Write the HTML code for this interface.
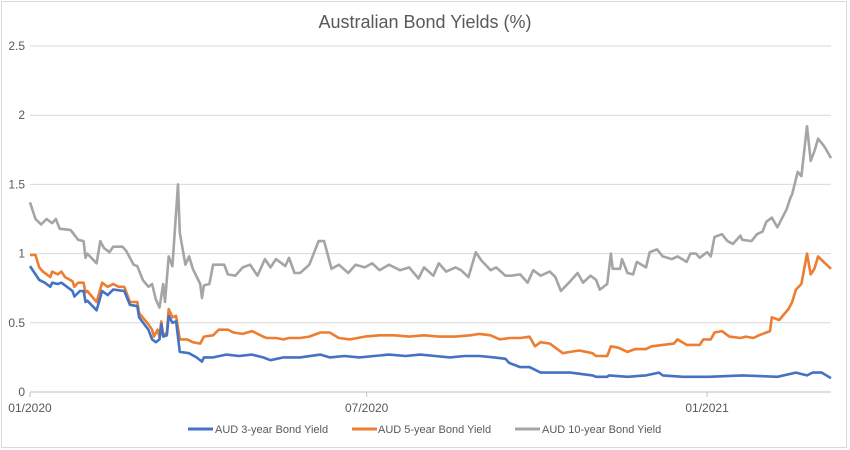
<!DOCTYPE html>
<html><head><meta charset="utf-8"><style>
body{margin:0;background:#fff;font-family:"Liberation Sans",Arial,sans-serif}
svg{display:block}
</style></head><body>
<svg id="chart" width="850" height="450" xmlns="http://www.w3.org/2000/svg">
<rect x="1.5" y="1.5" width="845" height="446" fill="#fff" stroke="#d9d9d9"/>
<text x="425" y="28" text-anchor="middle" font-size="18" fill="#595959">Australian Bond Yields (%)</text>
<g id="grid"></g><g id="series"></g>
<g font-size="11" fill="#595959">
<line x1="188" y1="429" x2="213" y2="429" stroke="#4472c4" stroke-width="3"/>
<text x="215" y="433">AUD 3-year Bond Yield</text>
<line x1="352" y1="429" x2="377" y2="429" stroke="#ed7d31" stroke-width="3"/>
<text x="378" y="433">AUD 5-year Bond Yield</text>
<line x1="515" y1="429" x2="540" y2="429" stroke="#a5a5a5" stroke-width="3"/>
<text x="542" y="433">AUD 10-year Bond Yield</text>
</g>
</svg>
<script>
const yTicks=[0,0.5,1,1.5,2,2.5];
const yTickLabels=["0","0.5","1","1.5","2","2.5"];
const xTickDays=[0,182,366];
const xTickLabels=["01/2020","07/2020","01/2021"];
const days3=[0,5,8,11,12,15,17,20,23,24,27,29,30,31,36,39,42,45,51,54,58,59,64,66,68,70,71,72,74,75,77,79,81,86,90,93,94,99,106,113,120,126,130,137,142,146,157,162,170,178,186,194,203,211,219,227,235,243,251,257,259,265,270,276,286,292,304,306,312,313,323,333,340,342,353,367,385,404,414,420,423,428,433];
const yield3=[0.91,0.81,0.79,0.76,0.79,0.78,0.79,0.76,0.73,0.69,0.73,0.73,0.65,0.66,0.59,0.73,0.70,0.74,0.73,0.63,0.62,0.54,0.45,0.38,0.36,0.38,0.49,0.40,0.41,0.55,0.50,0.51,0.29,0.28,0.25,0.22,0.25,0.25,0.27,0.26,0.27,0.25,0.23,0.25,0.25,0.25,0.27,0.25,0.26,0.25,0.26,0.27,0.26,0.27,0.26,0.25,0.26,0.26,0.25,0.24,0.21,0.18,0.18,0.14,0.14,0.14,0.12,0.11,0.11,0.12,0.11,0.12,0.14,0.12,0.11,0.11,0.12,0.11,0.14,0.12,0.14,0.14,0.10];
const days5=[0,3,5,7,11,12,15,17,19,23,24,26,29,30,31,36,39,42,45,48,51,54,58,59,64,66,67,69,70,71,72,74,75,77,79,81,85,88,92,94,99,102,107,110,115,120,126,128,133,137,140,146,151,157,162,167,173,181,189,197,205,213,221,230,238,243,249,254,259,265,270,273,276,281,288,292,297,304,306,312,314,318,323,327,333,336,342,348,350,355,362,364,368,370,374,378,384,387,391,394,400,401,405,410,412,414,417,420,422,424,426,429,433];
const yield5=[0.99,0.99,0.90,0.87,0.83,0.87,0.85,0.87,0.83,0.80,0.76,0.79,0.79,0.72,0.73,0.65,0.79,0.76,0.78,0.76,0.76,0.65,0.65,0.57,0.49,0.45,0.40,0.45,0.40,0.51,0.41,0.43,0.60,0.54,0.55,0.38,0.38,0.36,0.35,0.40,0.41,0.45,0.45,0.43,0.42,0.44,0.40,0.39,0.39,0.38,0.39,0.39,0.40,0.43,0.43,0.39,0.38,0.40,0.41,0.41,0.40,0.41,0.40,0.40,0.41,0.42,0.41,0.38,0.39,0.39,0.40,0.33,0.36,0.35,0.28,0.29,0.30,0.28,0.26,0.26,0.33,0.32,0.29,0.31,0.31,0.33,0.34,0.35,0.38,0.34,0.34,0.38,0.38,0.43,0.44,0.40,0.39,0.40,0.39,0.41,0.44,0.54,0.52,0.60,0.65,0.74,0.78,1.00,0.85,0.89,0.98,0.94,0.89];
const days10=[0,3,6,9,12,14,16,22,26,29,30,31,36,38,40,43,45,50,52,56,58,61,64,66,68,70,72,73,75,77,80,81,84,86,88,92,93,94,97,99,105,107,111,115,119,123,127,130,133,138,140,143,146,151,156,159,163,167,172,176,181,185,189,194,200,205,210,213,218,221,225,230,233,237,241,244,249,252,257,260,265,269,272,276,281,284,287,292,296,299,303,306,308,312,314,315,319,320,323,326,328,333,335,339,342,347,350,355,357,360,362,366,368,370,374,377,380,384,385,390,393,396,398,401,404,409,411,412,415,417,420,422,424,426,429,430,433];
const yield10=[1.37,1.25,1.21,1.25,1.22,1.25,1.18,1.17,1.10,1.09,0.97,1.00,0.93,1.09,1.04,1.01,1.05,1.05,1.02,0.92,0.91,0.81,0.76,0.78,0.67,0.61,0.78,0.65,0.98,0.91,1.50,1.15,0.92,0.98,0.89,0.78,0.68,0.77,0.78,0.92,0.92,0.85,0.84,0.90,0.92,0.84,0.96,0.90,0.96,0.91,0.97,0.86,0.86,0.92,1.09,1.09,0.89,0.92,0.86,0.92,0.90,0.93,0.88,0.92,0.88,0.90,0.82,0.90,0.84,0.93,0.87,0.90,0.88,0.83,1.01,0.95,0.88,0.90,0.84,0.84,0.85,0.79,0.88,0.84,0.87,0.83,0.73,0.80,0.86,0.79,0.84,0.81,0.74,0.78,1.00,0.89,0.89,0.96,0.86,0.85,0.94,0.90,1.01,1.03,0.98,0.96,0.98,0.94,1.00,1.00,0.97,1.01,0.98,1.12,1.14,1.09,1.07,1.13,1.10,1.09,1.14,1.16,1.23,1.26,1.19,1.32,1.40,1.43,1.59,1.56,1.92,1.67,1.74,1.83,1.78,1.76,1.69];

const NS="http://www.w3.org/2000/svg";
const X0=30,X1=831,DMAX=433,Y0=392,YTOP=46,VMAX=2.5;
function xScale(d){return X0+(X1-X0)*d/DMAX;}
function yScale(v){return Y0-(Y0-YTOP)*v/VMAX;}
function mk(tag,attrs,parent){const e=document.createElementNS(NS,tag);for(const k in attrs)e.setAttribute(k,attrs[k]);parent.appendChild(e);return e;}
const grid=document.getElementById('grid');
yTicks.forEach((t,i)=>{
  const y=yScale(t);
  const l=mk('line',{x1:X0,x2:X1,y1:y,y2:y,stroke:i===0?'#bfbfbf':'#d9d9d9','stroke-width':1},grid);
  
  
  const tx=mk('text',{x:25,y:y+4,'text-anchor':'end','font-size':12,fill:'#595959'},grid);
  tx.textContent=yTickLabels[i];
  
  
});
xTickDays.forEach((d,i)=>{
  const x=xScale(d);
  const tk=mk('line',{x1:x,x2:x,y1:Y0,y2:Y0+5,stroke:'#bfbfbf'},grid);
  
  
  const tx=mk('text',{x:x,y:412,'text-anchor':'middle','font-size':12,fill:'#595959'},grid);
  tx.textContent=xTickLabels[i];
  
  
});
const sg=document.getElementById('series');
function drawLine(days,vals,color,name){
  const pts=days.map((d,i)=>xScale(d).toFixed(1)+','+yScale(vals[i]).toFixed(1)).join(' ');
  const p=mk('polyline',{points:pts,fill:'none',stroke:color,'stroke-width':2.6,'stroke-linejoin':'round'},sg);
  
  
}
drawLine(days10,yield10,'#a5a5a5','line-10-year');
drawLine(days5,yield5,'#ed7d31','line-5-year');
drawLine(days3,yield3,'#4472c4','line-3-year');
</script>
</body></html>
